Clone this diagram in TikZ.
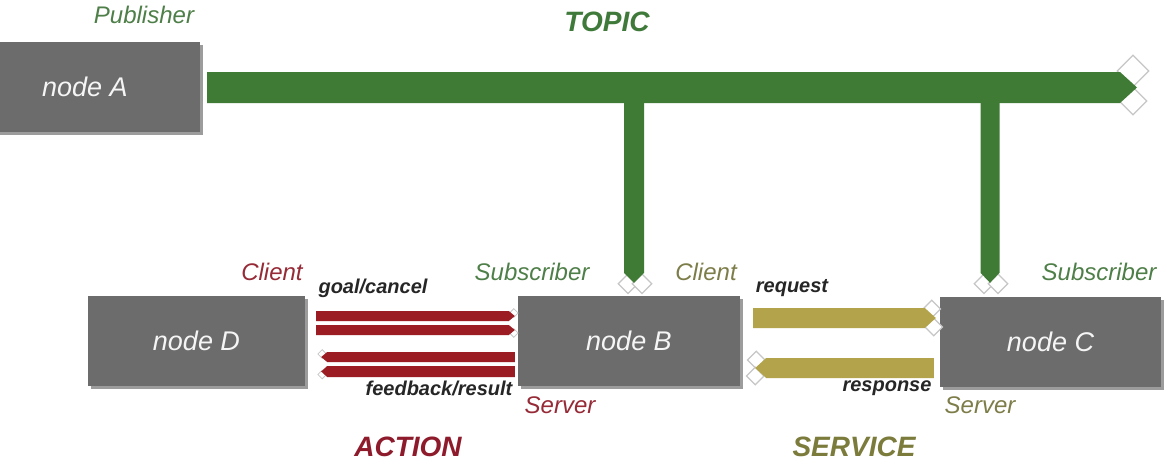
\documentclass[tikz,border=0pt]{standalone}
\usepackage{fontspec}
\setmainfont{Liberation Sans}
\usetikzlibrary{calc,shapes.geometric,shadows}
\definecolor{topicgreen}{HTML}{3F7B35}
\definecolor{actred}{HTML}{9B1C22}
\definecolor{srvkhaki}{HTML}{B3A44C}
\definecolor{lblgreen}{HTML}{4E7F48}
\definecolor{lblred}{HTML}{962A36}
\definecolor{lblolive}{HTML}{7D7D4A}
\definecolor{nodegray}{HTML}{6C6C6C}
\definecolor{ttlgreen}{HTML}{3F7A3A}
\definecolor{ttlred}{HTML}{8E1B2B}
\definecolor{ttlolive}{HTML}{7B7B3B}
\newcommand\myharrow[5]{%
  \fill[#1] ($(#2)+(0,{-1*(#4)})$) -- ($(#3)+({-1*(#5)},{-1*(#4)})$) -- (#3)
    -- ($(#3)+({-1*(#5)},#4)$) -- ($(#2)+(0,#4)$) -- cycle;}
\newcommand\myvarrow[5]{%
  \fill[#1] ($(#2)+({-1*(#4)},0)$) -- ($(#3)+({-1*(#4)},{-1*(#5)})$) -- (#3)
    -- ($(#3)+(#4,{-1*(#5)})$) -- ($(#2)+(#4,0)$) -- cycle;}
\begin{document}
\begin{tikzpicture}[x=1pt,y=-1pt,
  rosnode/.style={rectangle, fill=nodegray, minimum width=220pt, minimum height=90pt,
    inner sep=0pt, text=white!92!gray, font=\fontsize{27}{30}\selectfont\itshape,
    drop shadow={shadow xshift=3pt, shadow yshift=-3pt, opacity=0.55, fill=black!70}},
  role/.style={font=\fontsize{24}{28}\selectfont\itshape, inner sep=0pt},
  msg/.style={font=\fontsize{20}{24}\selectfont\bfseries\itshape, inner sep=0pt, text=black!85},
  ttl/.style={font=\fontsize{28}{32}\selectfont\bfseries\itshape, inner sep=0pt},
  jd/.style={diamond, aspect=1, draw=gray!45, fill=white, line width=1.2pt, inner sep=0pt},
]
\useasboundingbox (0,0) rectangle (1167,472);
\fill[white] (0,0) rectangle (1167,472);

% nodes
\node[rosnode, minimum width=230pt] (A) at (85,87) {node A};
\node[rosnode, minimum width=217pt] (D) at (196.5,341) {node D};
\node[rosnode, minimum width=222pt] (B) at (629,341) {node B};
\node[rosnode, minimum width=221pt] (C) at (1050.5,342) {node C};

% topic bar
\coordinate (ts) at ($(A.east)+(7,0.5)$);
\coordinate (te) at (1137,87.5);
\node[jd, minimum size=32pt] (tj1) at (1133,71) {};
\node[jd, minimum size=28pt] (tj2) at (1133,101) {};
\myharrow{topicgreen}{ts}{te}{15.5}{17}

% drops to B and C
\coordinate (bs) at (634,100);
\coordinate (be) at ($(B.north)+(5,-13)$);
\coordinate (cs) at (990,100);
\coordinate (ce) at ($(C.north)+(-60.5,-14)$);
\node[jd, minimum size=20pt] (bj1) at ($(be)+(-6,1)$) {};
\node[jd, minimum size=20pt] (bj2) at ($(be)+(8,1)$) {};
\node[jd, minimum size=20pt] (cj1) at ($(ce)+(-6,1)$) {};
\node[jd, minimum size=20pt] (cj2) at ($(ce)+(8,1)$) {};
\myvarrow{topicgreen}{bs}{be}{10}{10}
\myvarrow{topicgreen}{cs}{ce}{9.5}{10}

% action arrows D <-> B
\coordinate (a1s) at ($(D.east)+(11,-25)$);
\coordinate (a1e) at ($(B.west)+(-3,-25)$);
\coordinate (a2s) at ($(D.east)+(11,-11)$);
\coordinate (a2e) at ($(B.west)+(-3,-11)$);
\coordinate (a3s) at ($(B.west)+(-3,16)$);
\coordinate (a3e) at ($(D.east)+(16,16)$);
\coordinate (a4s) at ($(B.west)+(-3,30.5)$);
\coordinate (a4e) at ($(D.east)+(16,30.5)$);
\node[jd, minimum size=9pt, line width=0.8pt] (aj1) at ($(a1e)+(-1,-3)$) {};
\node[jd, minimum size=9pt, line width=0.8pt] (aj2) at ($(a2e)+(-1,3)$) {};
\node[jd, minimum size=9pt, line width=0.8pt] (aj3) at ($(a3e)+(1,-3)$) {};
\node[jd, minimum size=9pt, line width=0.8pt] (aj4) at ($(a4e)+(1,3)$) {};
\myharrow{actred}{a1s}{a1e}{5}{6}
\myharrow{actred}{a2s}{a2e}{5}{6}
\myharrow{actred}{a3s}{a3e}{5}{-6}
\myharrow{actred}{a4s}{a4e}{5.5}{-6}

% service arrows B <-> C
\coordinate (s1s) at ($(B.east)+(13,-23)$);
\coordinate (s1e) at ($(C.west)+(-4,-24)$);
\coordinate (s2s) at ($(C.west)+(-6,26)$);
\coordinate (s2e) at ($(B.east)+(15,27)$);
\node[jd, minimum size=18pt] (sj1) at ($(s1e)+(-4,-9)$) {};
\node[jd, minimum size=18pt] (sj2) at ($(s1e)+(-2,9)$) {};
\node[jd, minimum size=18pt] (sj3) at ($(s2e)+(1,-8)$) {};
\node[jd, minimum size=18pt] (sj4) at ($(s2e)+(0,8)$) {};
\myharrow{srvkhaki}{s1s}{s1e}{10}{11}
\myharrow{srvkhaki}{s2s}{s2e}{10}{-11}

% labels
\node[role, text=lblgreen] (lpub) at (144,15) {Publisher};
\node[ttl, text=ttlgreen] (ltopic) at (607,22) {TOPIC};
\node[role, text=lblred] (lcd) at (272,272) {Client};
\node[msg] (lgoal) at (373,288) {goal/cancel};
\node[role, text=lblgreen] (lsb) at (532,272) {Subscriber};
\node[role, text=lblolive] (lcb) at (706,272) {Client};
\node[msg] (lreq) at (792,288) {request};
\node[role, text=lblgreen] (lsc) at (1099,272) {Subscriber};
\node[msg] (lfb) at (439,388) {feedback/result};
\node[role, text=lblred] (lsvb) at (560,405) {Server};
\node[msg] (lresp) at (887,388) {response};
\node[role, text=lblolive] (lsvc) at (980,405) {Server};
\node[ttl, text=ttlred] (lact) at (408,447) {ACTION};
\node[ttl, text=ttlolive] (lsrv) at (854,447) {SERVICE};
\end{tikzpicture}
\end{document}
